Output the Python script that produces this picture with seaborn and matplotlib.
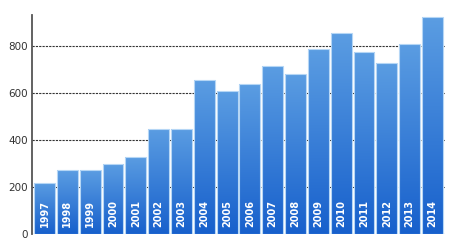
import matplotlib
matplotlib.use("Agg")
import matplotlib.pyplot as plt
import seaborn as sns
import numpy as np
import pandas as pd
from matplotlib.colors import LinearSegmentedColormap

years = ["1997", "1998", "1999", "2000", "2001", "2002", "2003", "2004", "2005",
         "2006", "2007", "2008", "2009", "2010", "2011", "2012", "2013", "2014"]
values = [218, 272, 272, 298, 329, 447, 447, 654, 607, 637, 715, 682, 786, 854,
          776, 729, 810, 923]
yticks = [0, 200, 400, 600, 800]

df = pd.DataFrame({"year": years, "value": values})

sns.set_theme(style="white")
plt.rcParams['font.family'] = ['DejaVu Sans']

fig = plt.figure(figsize=(4.51, 2.49), dpi=100)
ax = fig.add_axes([32 / 451, 15 / 249, (445 - 32) / 451, (234 - 15) / 249])

sns.barplot(data=df, x="year", y="value", color="#4a8ad9", width=0.92,
            edgecolor="#b5d6f5", linewidth=0.8, ax=ax, zorder=3)

ax.set_ylim(0, 932)
ax.set_xlim(-0.55, len(years) - 0.45)

cmap = LinearSegmentedColormap.from_list("g", ["#1760cc", "#5b9de2"])
grad = np.linspace(0, 1, 256).reshape(-1, 1)
for p in ax.patches:
    x0, y0 = p.get_x(), p.get_y()
    w, h = p.get_width(), p.get_height()
    im = ax.imshow(grad, cmap=cmap, aspect="auto", origin="lower",
                   extent=[x0, x0 + w, y0, y0 + h], zorder=3.5)
    im.set_clip_path(p)
    p.set_facecolor("none")
    p.set_zorder(4)

for i, y in enumerate(years):
    ax.text(i, 28, y, rotation=90, ha="center", va="bottom", color="white",
            fontsize=7, fontweight="bold", zorder=5)

ax.set_yticks(yticks)
ax.set_yticklabels([str(t) for t in yticks], fontsize=7.5, color="#333333")
ax.tick_params(axis="y", length=0, pad=3)
ax.set_xticks([])
ax.set_xlabel("")
ax.set_ylabel("")

for t in yticks:
    ax.axhline(t, color="#333333", linestyle=(0, (2, 1)), linewidth=0.8, zorder=2)

for s in ["top", "right", "bottom"]:
    ax.spines[s].set_visible(False)
ax.spines["left"].set_color("#555555")
ax.spines["left"].set_linewidth(1.3)
ax.spines["left"].set_zorder(6)

fig.savefig("out.png", dpi=100)
